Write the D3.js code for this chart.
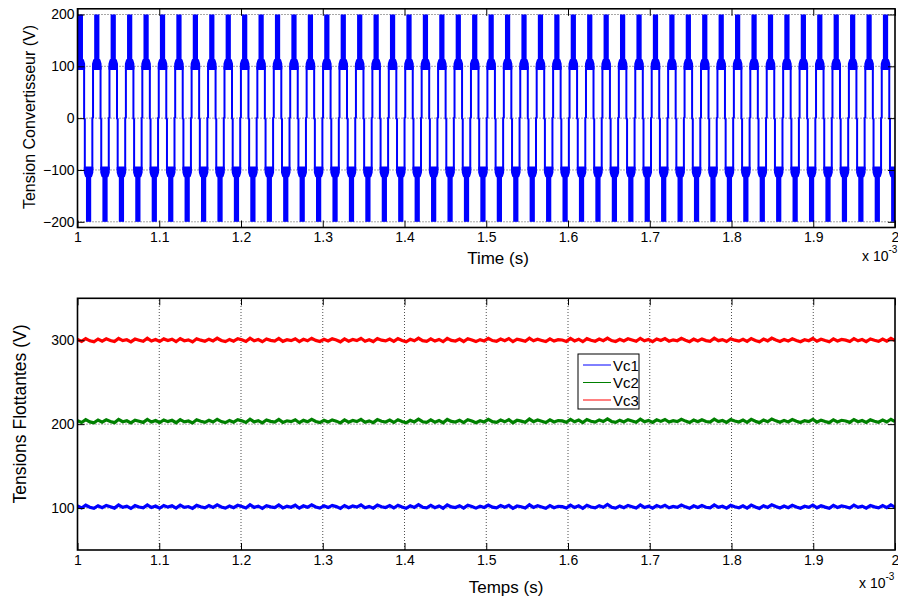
<!DOCTYPE html>
<html lang="en">
<head>
<meta charset="utf-8">
<title>Tension convertisseur / tensions flottantes</title>
<script src="https://d3js.org/d3.v7.min.js"></script>
<style>
body{margin:0;background:#fff;}
svg{display:block;font-family:"Liberation Sans",Arial,Helvetica,sans-serif;}
.axis path{display:none;}
.axis line{stroke:#000;stroke-width:1;}
.axis text{font-size:14px;fill:#000;}
.grid line{stroke:#222;stroke-width:0.8;stroke-dasharray:1,2;}
</style>
</head>
<body>
<div id="chart"></div>
<script>
// time axis (x 10^-3 s)
var xTicks = [1, 1.1, 1.2, 1.3, 1.4, 1.5, 1.6, 1.7, 1.8, 1.9, 2]
var xTickLabels = ["1", "1.1", "1.2", "1.3", "1.4", "1.5", "1.6", "1.7", "1.8", "1.9", "2"]

// top plot : converter output voltage (5 levels, PWM)
var topYTicks = [-200, -100, 0, 100, 200]
var levels = [-200, -100, 0, 100, 200]
var pulseFirst = 1.0035      // centre of the first +200 V pulse
var pulsePeriod = 0.0201     // switching period
var pulseCount = 50
var barHalf = 0.0032         // half width of a thick bar (time)
var legOffset = 0.0046       // offset of the thin transition lines (time)

// bottom plot : floating capacitor voltages
var botYTicks = [100, 200, 300]
var seriesNames = ["Vc1", "Vc2", "Vc3"]
var vc1 = [102.6, 100.1, 103.4, 101.0, 99.7, 102.8, 100.5, 103.1, 101.6, 99.9,
  103.6, 100.8, 102.2, 99.5, 102.9, 101.3, 100.2, 103.8, 100.6, 102.4,
  99.8, 103.0, 101.1, 102.7, 100.0, 103.5, 100.9, 101.8, 99.6, 103.2,
  101.5, 100.3, 102.9, 100.7, 103.7, 101.2, 99.9, 102.5, 100.4, 103.3,
  101.9, 100.1, 104.0, 100.8, 102.3, 99.7, 102.8, 101.4, 100.5, 103.6,
  100.2, 102.1, 101.0, 103.4, 99.8, 102.6, 100.9, 103.9, 101.3, 100.0,
  102.7, 100.6, 103.2, 101.7, 99.6, 103.0, 100.4, 102.4, 101.1, 103.8,
  100.3, 102.0, 99.9, 103.5, 101.6, 100.7, 102.9, 100.1, 103.3, 101.2,
  99.7, 102.6, 100.8, 104.1, 101.0, 100.2, 103.1, 100.5, 102.5, 99.8,
  103.7, 101.4, 100.6, 102.8, 100.0, 103.4, 101.8, 99.9, 102.2, 100.7,
  103.6, 101.1, 100.3, 102.9, 100.9, 103.2, 99.6, 102.4, 101.5, 100.1,
  103.9, 100.8, 102.7, 101.2, 99.8, 103.0, 100.4, 102.1, 101.7, 100.0,
  103.5, 100.6, 102.6, 99.7, 103.3, 101.3, 100.2, 102.8, 100.9, 104.2,
  101.0, 99.9, 102.5, 100.5, 103.1, 101.6, 100.1, 103.7, 100.7, 102.3,
  99.8, 102.9, 101.1, 103.4, 100.3, 101.9, 100.8, 103.6, 101.4, 99.7,
  102.7, 100.6, 103.0, 101.0, 100.2, 103.8, 100.9, 102.2, 99.9, 103.2,
  101.5, 100.4, 102.6, 100.0, 103.5, 101.2, 99.6, 102.8, 100.7, 103.9,
  101.8, 100.1, 102.4, 100.5, 103.3, 101.3, 99.8, 102.1, 100.9, 103.6,
  100.3, 102.7, 101.1, 99.7, 103.1, 100.6, 102.5, 101.6, 100.0, 103.4,
  100.8, 102.3, 99.9, 103.0, 101.4, 100.2, 102.9, 100.5, 103.7, 101.0]
var vc2 = [204.2, 202.0, 205.3, 202.7, 201.6, 204.9, 202.4, 205.1, 203.2, 201.8,
  205.6, 202.9, 204.0, 201.5, 204.8, 203.4, 202.1, 205.7, 202.5, 204.3,
  201.9, 205.0, 203.0, 204.6, 201.7, 205.4, 202.8, 203.8, 201.4, 205.2,
  203.5, 202.2, 204.7, 202.6, 205.8, 203.1, 201.8, 204.4, 202.3, 205.3,
  203.9, 202.0, 205.9, 202.7, 204.2, 201.6, 204.9, 203.3, 202.4, 205.5,
  202.1, 204.0, 203.0, 205.2, 201.7, 204.5, 202.8, 205.8, 203.2, 201.9,
  204.6, 202.5, 205.1, 203.6, 201.5, 205.0, 202.3, 204.3, 203.0, 205.7,
  202.2, 203.9, 201.8, 205.4, 203.5, 202.6, 204.8, 202.0, 205.3, 203.1,
  201.6, 204.5, 202.7, 206.0, 202.9, 202.1, 205.0, 202.4, 204.4, 201.7,
  205.6, 203.3, 202.5, 204.7, 201.9, 205.3, 203.7, 201.8, 204.1, 202.6,
  205.7, 203.0, 202.2, 204.9, 202.8, 205.4, 201.7, 204.6, 203.6, 202.3,
  206.1, 203.0, 204.9, 203.4, 202.0, 205.2, 202.6, 204.3, 203.9, 202.2,
  205.7, 202.8, 204.8, 201.9, 205.5, 203.5, 202.4, 205.0, 203.1, 206.2,
  203.2, 202.1, 204.7, 202.7, 205.3, 203.8, 202.3, 205.9, 202.9, 204.5,
  202.0, 205.1, 203.3, 205.6, 202.5, 204.1, 203.0, 205.8, 203.6, 201.9,
  204.9, 202.8, 205.2, 203.2, 202.4, 206.0, 203.1, 204.4, 202.1, 205.4,
  203.7, 202.6, 204.8, 202.2, 205.7, 203.4, 201.8, 205.0, 202.9, 206.1,
  203.9, 202.2, 204.5, 202.6, 205.4, 203.4, 201.9, 204.2, 203.0, 205.7,
  202.4, 204.8, 203.2, 201.8, 205.2, 202.7, 204.6, 203.7, 202.1, 205.5,
  202.9, 204.4, 202.0, 205.1, 203.5, 202.3, 205.0, 202.6, 205.8, 203.1]
var vc3 = [300.8, 298.6, 301.9, 299.3, 298.2, 301.5, 299.0, 301.7, 299.8, 298.4,
  302.2, 299.5, 300.6, 298.1, 301.4, 300.0, 298.7, 302.3, 299.1, 300.9,
  298.5, 301.6, 299.6, 301.2, 298.3, 302.0, 299.4, 300.4, 298.0, 301.8,
  300.1, 298.8, 301.3, 299.2, 302.4, 299.7, 298.4, 301.0, 298.9, 301.9,
  300.5, 298.6, 302.5, 299.3, 300.8, 298.2, 301.5, 299.9, 299.0, 302.1,
  298.7, 300.6, 299.6, 301.8, 298.3, 301.1, 299.4, 302.4, 299.8, 298.5,
  301.2, 299.1, 301.7, 300.2, 298.1, 301.6, 298.9, 300.9, 299.6, 302.3,
  298.8, 300.5, 298.4, 302.0, 300.1, 299.2, 301.4, 298.6, 301.9, 299.7,
  298.2, 301.1, 299.3, 302.6, 299.5, 298.7, 301.6, 299.0, 301.0, 298.3,
  302.2, 299.9, 299.1, 301.3, 298.5, 301.9, 300.3, 298.4, 300.7, 299.2,
  302.3, 299.6, 298.8, 301.5, 299.4, 302.0, 298.3, 301.2, 300.2, 298.9,
  302.5, 299.4, 301.3, 299.8, 298.4, 301.6, 299.0, 300.7, 300.3, 298.6,
  302.1, 299.2, 301.2, 298.3, 301.9, 299.9, 298.8, 301.4, 299.5, 302.6,
  299.6, 298.5, 301.1, 299.1, 301.7, 300.2, 298.7, 302.3, 299.3, 300.9,
  298.4, 301.5, 299.7, 302.0, 298.9, 300.5, 299.4, 302.2, 300.0, 298.3,
  301.3, 299.2, 301.6, 299.6, 298.8, 302.4, 299.5, 300.8, 298.5, 301.8,
  300.1, 299.0, 301.2, 298.6, 302.1, 299.8, 298.2, 301.4, 299.3, 302.5,
  300.3, 298.6, 300.9, 299.0, 301.8, 299.8, 298.3, 300.6, 299.4, 302.1,
  298.8, 301.2, 299.6, 298.2, 301.6, 299.1, 301.0, 300.1, 298.5, 301.9,
  299.3, 300.8, 298.4, 301.5, 299.9, 298.7, 301.4, 299.0, 302.2, 299.5]
var seriesColors = ["#0000ff", "#008000", "#ff0000"]

var w = 898
var h = 603
var svg = d3.select("#chart").append("svg").attr("width", w).attr("height", h)

var left = 77.5, right = 895
function makeX() {
    return d3.scaleLinear().domain([1, 2]).range([left, right])
}

// dotted grid
function drawGrid(g, xScale, yScale, yTicks, gridX, gridY) {
    var y0 = yScale.range()[0], y1 = yScale.range()[1]
    if (gridX) {
        g.append("g").attr("class", "grid").selectAll("line")
            .data(xTicks.slice(1, -1)).enter().append("line")
            .attr("x1", d => xScale(d)).attr("x2", d => xScale(d))
            .attr("y1", y0).attr("y2", y1)
    }
    if (gridY) {
        g.append("g").attr("class", "grid").selectAll("line")
            .data(yTicks).enter().append("line")
            .attr("x1", left).attr("x2", right)
            .attr("y1", d => yScale(d)).attr("y2", d => yScale(d))
    }
}

// box with inward ticks on all four sides
function drawAxes(g, xScale, yScale, yTicks) {
    var y0 = yScale.range()[0], y1 = yScale.range()[1]
    g.append("g").attr("class", "axis")
        .attr("transform", "translate(0," + y0 + ")")
        .call(d3.axisBottom(xScale).tickValues(xTicks)
            .tickFormat((d, k) => xTickLabels[k]).tickSize(-7).tickPadding(5))
    g.append("g").attr("class", "axis")
        .attr("transform", "translate(0," + y1 + ")")
        .call(d3.axisTop(xScale).tickValues(xTicks).tickFormat("").tickSize(-7))
    g.append("g").attr("class", "axis")
        .attr("transform", "translate(" + left + ",0)")
        .call(d3.axisLeft(yScale).tickValues(yTicks).tickSize(-7).tickPadding(3))
    g.append("g").attr("class", "axis")
        .attr("transform", "translate(" + right + ",0)")
        .call(d3.axisRight(yScale).tickValues(yTicks).tickFormat("").tickSize(-7))
    g.append("rect")
        .attr("x", left).attr("y", y1)
        .attr("width", right - left).attr("height", y0 - y1)
        .attr("fill", "none").attr("stroke", "#000").attr("stroke-width", 1.6)
}

function drawExponent(g, x, y) {
    var t = g.append("text").attr("x", x).attr("y", y).style("font-size", "14px")
    t.append("tspan").text("x 10")
    t.append("tspan").attr("dy", -8).style("font-size", "10px").text("-3")
}

// ---------------- top plot ----------------
function drawTop() {
    var xScale = makeX()
    var yScale = d3.scaleLinear().domain([-211, 211]).range([227.5, 8.8])
    var g = svg.append("g")

    g.append("clipPath").attr("id", "clipTop").append("rect")
        .attr("x", left).attr("y", yScale.range()[1])
        .attr("width", right - left).attr("height", yScale.range()[0] - yScale.range()[1])

    drawGrid(g, xScale, yScale, topYTicks, false, true)

    var tops = d3.range(pulseCount).map(k => pulseFirst + k * pulsePeriod)
    var bots = tops.map(t => t + pulsePeriod / 2)
    var wave = g.append("g").attr("clip-path", "url(#clipTop)")
    var blue = seriesColors[0]
    var hi = levels[4], mid = levels[3], zero = levels[2], nmid = levels[1], lo = levels[0]

    // thin transition lines between the +-100 levels and 0
    var legs = []
    tops.forEach(function (t) {
        legs.push([[t - legOffset, mid], [t - legOffset, zero]])
        legs.push([[t + legOffset, mid], [t + legOffset, zero], [t + pulsePeriod / 2 - legOffset, zero]])
    })
    bots.forEach(function (t) {
        legs.push([[t - legOffset, nmid], [t - legOffset, zero]])
        legs.push([[t + legOffset, nmid], [t + legOffset, zero], [t + pulsePeriod / 2 - legOffset, zero]])
    })
    var line = d3.line().x(d => xScale(d[0])).y(d => yScale(d[1]))
    wave.selectAll("path.leg").data(legs).enter().append("path")
        .attr("class", "leg").attr("d", line)
        .attr("fill", "none").attr("stroke", blue).attr("stroke-width", 2)

    // thick bars +100..+200 and -100..-200, with a small Y junction at +-100
    function bar(centres, a, b, s, dir) {
        wave.selectAll(null).data(centres).enter().append("rect")
            .attr("x", d => xScale(d - barHalf)).attr("width", d => xScale(d + barHalf) - xScale(d - barHalf))
            .attr("y", yScale(Math.max(a, b))).attr("height", Math.abs(yScale(a) - yScale(b)))
            .attr("fill", blue)
        wave.selectAll(null).data(centres).enter().append("path")
            .attr("d", function (d) {
                var p = [[d - barHalf, s + dir * 12], [d - legOffset, s + dir * 5], [d - legOffset, s - dir * 5],
                         [d + legOffset, s - dir * 5], [d + legOffset, s + dir * 5], [d + barHalf, s + dir * 12]]
                return line(p) + "Z"
            })
            .attr("fill", blue).attr("stroke", blue).attr("stroke-width", 2).attr("stroke-linejoin", "round")
    }
    bar(tops, mid, hi, mid, 1)
    bar(bots, lo, nmid, nmid, -1)

    drawAxes(g, xScale, yScale, topYTicks)

    g.append("text").attr("x", 498).attr("y", 264).attr("text-anchor", "middle")
        .style("font-size", "17px").text("Time (s)")
    g.append("text").attr("transform", "translate(35,117) rotate(-90)")
        .attr("text-anchor", "middle").style("font-size", "16px")
        .text("Tension Convertisseur (V)")
    drawExponent(g, 862, 261)
}

// ---------------- bottom plot ----------------
function drawBottom() {
    var xScale = makeX()
    var yScale = d3.scaleLinear().domain([50, 350]).range([550, 298.3])
    var g = svg.append("g")

    g.append("clipPath").attr("id", "clipBot").append("rect")
        .attr("x", left).attr("y", yScale.range()[1])
        .attr("width", right - left).attr("height", yScale.range()[0] - yScale.range()[1])

    drawGrid(g, xScale, yScale, botYTicks, true, true)

    var series = [vc1, vc2, vc3]
    var line = d3.line()
        .x((d, i, arr) => xScale(1 + i / (arr.length - 1)))
        .y(d => yScale(d))
    g.append("g").attr("clip-path", "url(#clipBot)")
        .selectAll("path").data(series).enter().append("path")
        .attr("d", d => line(d))
        .attr("fill", "none")
        .attr("stroke", (d, i) => seriesColors[i])
        .attr("stroke-width", 3.2)

    drawAxes(g, xScale, yScale, botYTicks)

    // legend
    var lg = g.append("g").attr("transform", "translate(578,354)")
    lg.append("rect").attr("width", 61).attr("height", 55)
        .attr("fill", "#fff").attr("stroke", "#000").attr("stroke-width", 1)
    var rows = lg.selectAll("g").data(seriesNames).enter().append("g")
        .attr("transform", (d, i) => "translate(0," + (11 + i * 17.5) + ")")
    rows.append("line").attr("x1", 5).attr("x2", 33)
        .attr("stroke", (d, i) => seriesColors[i]).attr("stroke-width", 1)
    rows.append("text").attr("x", 35).attr("y", 5.5).style("font-size", "15px").text(d => d)

    g.append("text").attr("x", 506).attr("y", 593).attr("text-anchor", "middle")
        .style("font-size", "17px").text("Temps (s)")
    g.append("text").attr("transform", "translate(26,414) rotate(-90)")
        .attr("text-anchor", "middle").style("font-size", "17.5px")
        .text("Tensions Flottantes (V)")
    drawExponent(g, 859, 588)
}

drawTop()
drawBottom()
</script>
</body>
</html>
